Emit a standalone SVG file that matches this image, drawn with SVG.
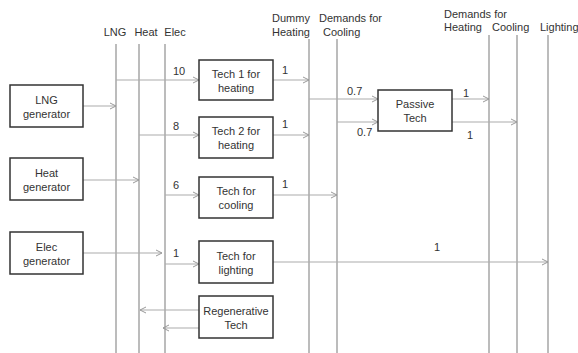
<svg xmlns="http://www.w3.org/2000/svg" width="578" height="353" viewBox="0 0 578 353">
<defs>
<marker id="ah" markerWidth="8" markerHeight="8" refX="7" refY="4" orient="auto" markerUnits="userSpaceOnUse">
<path d="M1,1 L7,4 L1,7" fill="none" stroke="#999" stroke-width="1"/>
</marker>
<style>
text{font-family:"Liberation Sans",Arial,sans-serif;font-size:11px;fill:#333}
.c{text-anchor:middle}
.bus{stroke:#a6a6a6;stroke-width:1.5;fill:none}
.ar{stroke:#ababab;stroke-width:1.2;fill:none;marker-end:url(#ah)}
.box{fill:#fff;stroke:#333;stroke-width:1.5}
</style>
</defs>
<rect width="578" height="353" fill="#fff"/>
<g id="buses">
<line class="bus" x1="116" y1="44" x2="116" y2="353"/>
<line class="bus" x1="139" y1="44" x2="139" y2="353"/>
<line class="bus" x1="165" y1="44" x2="165" y2="353"/>
<line class="bus" x1="309" y1="39" x2="309" y2="353"/>
<line class="bus" x1="337" y1="39" x2="337" y2="353"/>
<line class="bus" x1="489" y1="35" x2="489" y2="353"/>
<line class="bus" x1="517" y1="35" x2="517" y2="353"/>
<line class="bus" x1="548" y1="35" x2="548" y2="353"/>
</g>
<g id="bus-labels">
<text class="c" x="115" y="36">LNG</text>
<text class="c" x="146" y="36">Heat</text>
<text class="c" x="175" y="36">Elec</text>
<text x="272" y="22">Dummy</text>
<text x="272" y="36">Heating</text>
<text x="319" y="22">Demands for</text>
<text x="323" y="36">Cooling</text>
<text x="444" y="18">Demands for</text>
<text x="444" y="31">Heating</text>
<text x="492" y="31">Cooling</text>
<text x="540" y="31">Lighting</text>
</g>
<g id="connectors">
<line class="ar" x1="83" y1="106" x2="116" y2="106"/>
<line class="ar" x1="83" y1="180" x2="139" y2="180"/>
<line class="ar" x1="83" y1="253" x2="162" y2="253"/>
<line class="ar" x1="116" y1="80" x2="199" y2="80"/>
<line class="ar" x1="139" y1="135" x2="199" y2="135"/>
<line class="ar" x1="165" y1="195" x2="199" y2="195"/>
<line class="ar" x1="165" y1="264" x2="199" y2="264"/>
<line class="ar" x1="199" y1="310" x2="140" y2="310"/>
<line class="ar" x1="199" y1="328" x2="163" y2="328"/>
<line class="ar" x1="273" y1="80" x2="309" y2="80"/>
<line class="ar" x1="273" y1="135" x2="309" y2="135"/>
<line class="ar" x1="273" y1="195" x2="337" y2="195"/>
<line class="ar" x1="273" y1="262" x2="548" y2="262"/>
<line class="ar" x1="309" y1="99" x2="378" y2="99"/>
<line class="ar" x1="337" y1="122" x2="378" y2="122"/>
<line class="ar" x1="452" y1="99" x2="489" y2="99"/>
<line class="ar" x1="452" y1="122" x2="517" y2="122"/>
<text x="173" y="75">10</text>
<text x="173" y="130">8</text>
<text x="173" y="189">6</text>
<text x="173" y="257">1</text>
<text x="282" y="74">1</text>
<text x="282" y="128">1</text>
<text x="282" y="188">1</text>
<text x="434" y="251">1</text>
<text x="347" y="95">0.7</text>
<text x="357" y="136">0.7</text>
<text x="463" y="97">1</text>
<text x="467" y="139">1</text>
</g>
<g id="lng-generator"><rect class="box" x="10" y="85" width="73" height="42"/><text class="c" x="46.5" y="104">LNG</text><text class="c" x="46.5" y="118">generator</text></g>
<g id="heat-generator"><rect class="box" x="10" y="158" width="73" height="42"/><text class="c" x="46.5" y="177">Heat</text><text class="c" x="46.5" y="191">generator</text></g>
<g id="elec-generator"><rect class="box" x="10" y="232" width="73" height="42"/><text class="c" x="46.5" y="251">Elec</text><text class="c" x="46.5" y="265">generator</text></g>
<g id="tech1-heating"><rect class="box" x="199" y="60" width="74" height="40"/><text class="c" x="236" y="78">Tech 1 for</text><text class="c" x="236" y="92">heating</text></g>
<g id="tech2-heating"><rect class="box" x="199" y="117" width="74" height="41"/><text class="c" x="236" y="135">Tech 2 for</text><text class="c" x="236" y="149">heating</text></g>
<g id="tech-cooling"><rect class="box" x="199" y="177" width="74" height="41"/><text class="c" x="236" y="195">Tech for</text><text class="c" x="236" y="209">cooling</text></g>
<g id="tech-lighting"><rect class="box" x="199" y="241" width="74" height="42"/><text class="c" x="236" y="260">Tech for</text><text class="c" x="236" y="274">lighting</text></g>
<g id="regenerative-tech"><rect class="box" x="199" y="296" width="74" height="42"/><text class="c" x="236" y="315">Regenerative</text><text class="c" x="236" y="329">Tech</text></g>
<g id="passive-tech"><rect class="box" x="378" y="90" width="74" height="41"/><text class="c" x="415" y="108">Passive</text><text class="c" x="415" y="122">Tech</text></g>
</svg>
